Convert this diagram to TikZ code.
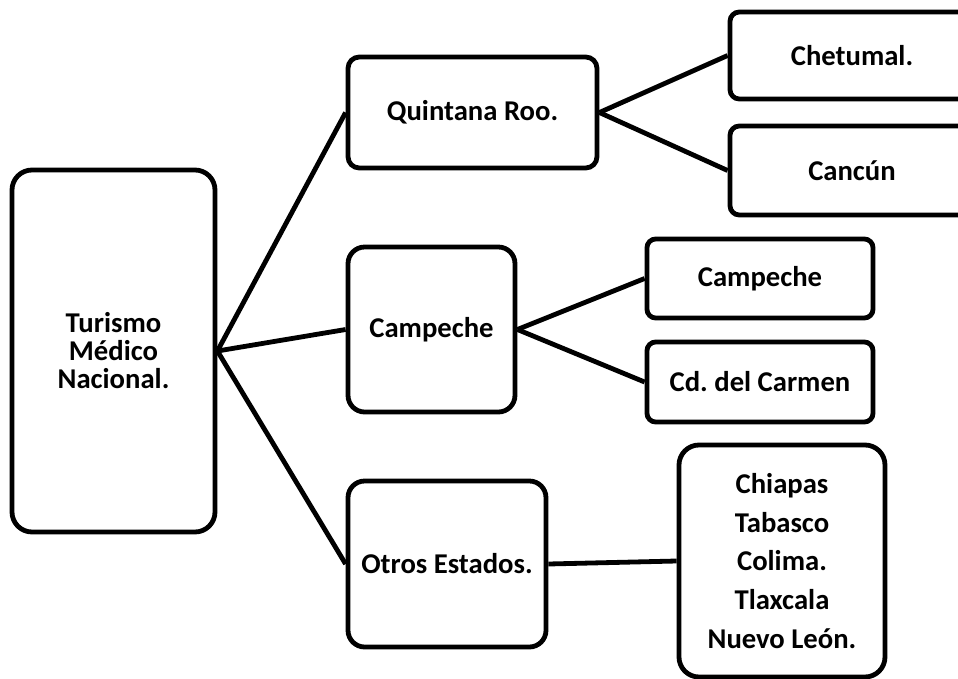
\documentclass[tikz,border=0pt]{standalone}
\usepackage{fontspec}
\setmainfont{Carlito}
\frenchspacing
\begin{document}
\begin{tikzpicture}[x=0.75pt,y=-0.75pt,
  box/.style={draw=black, line width=3.6pt, fill=white, inner sep=0pt,
    align=center, font=\bfseries\fontsize{21.5}{21}\selectfont},
  link/.style={draw=black, line width=3.6pt}]
\useasboundingbox (0,0) rectangle (958,679);
\begin{scope}
\clip (0,0) rectangle (958,679);
% root
\node[box, rounded corners=15pt, minimum width=203*0.75pt, minimum height=362*0.75pt]
  (root) at (113.5,351) {Turismo\\Médico\\Nacional.};
% second level
\node[box, rounded corners=8.5pt, minimum width=249*0.75pt, minimum height=111*0.75pt]
  (quin) at (472.5,112.5) {Quintana Roo.};
\node[box, rounded corners=12.5pt, minimum width=167*0.75pt, minimum height=165*0.75pt]
  (camp) at (431.5,329.5) {Campeche};
\node[box, rounded corners=12.5pt, minimum width=198*0.75pt, minimum height=166*0.75pt]
  (otros) at (447,564) {Otros Estados.};
% third level (right-hand boxes run past the page edge)
\node[box, rounded corners=7pt, minimum width=244*0.75pt, minimum height=87*0.75pt]
  (chet) at (852,55.5) {Chetumal.};
\node[box, rounded corners=7pt, minimum width=244*0.75pt, minimum height=89*0.75pt]
  (canc) at (852,170.5) {Cancún};
\node[box, rounded corners=6.5pt, minimum width=226*0.75pt, minimum height=79*0.75pt]
  (campc) at (760,278.5) {Campeche};
\node[box, rounded corners=6.5pt, minimum width=226*0.75pt, minimum height=80*0.75pt]
  (carm) at (760,382) {Cd. del Carmen};
\node[box, rounded corners=15pt, minimum width=206*0.75pt, minimum height=232*0.75pt,
  font=\bfseries\fontsize{21.5}{29}\selectfont]
  (list) at (782,561) {Chiapas\\Tabasco\\Colima.\\Tlaxcala\\Nuevo León.};
% connectors
\draw[link] (root.east) -- (quin.west);
\draw[link] (root.east) -- (camp.west);
\draw[link] (root.east) -- (otros.west);
\draw[link] (quin.east) -- (chet.west);
\draw[link] (quin.east) -- (canc.west);
\draw[link] (camp.east) -- (campc.west);
\draw[link] (camp.east) -- (carm.west);
\draw[link] (otros.east) -- (list.west);
\end{scope}
\end{tikzpicture}
\end{document}
